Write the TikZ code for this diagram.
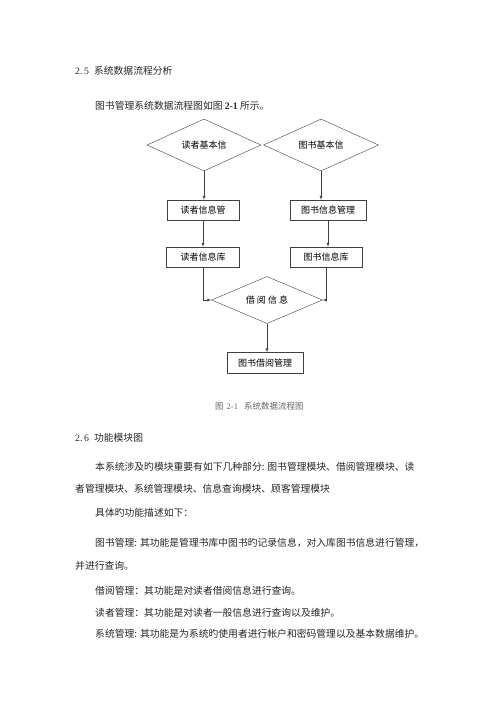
\documentclass[tikz,border=0pt]{standalone}
\usepackage{fontspec}
\setmainfont{Liberation Serif}
\newfontfamily\cjk{Noto Sans CJK SC}
\newcommand\latn[1]{{\rmfamily #1}}
\usetikzlibrary{shapes.geometric}

\begin{document}
\begin{tikzpicture}[x=1pt,y=-1pt]
        \tikzstyle{arrow}=[->,>=latex,draw=black!75];
        \tikzstyle{judge}=[diamond,draw=black!75,aspect=2.2,inner sep=0pt,font=\cjk\fontsize{9}{11}\selectfont];
        \tikzstyle{box}=[rectangle,draw=black!75,minimum width=72pt,minimum height=20pt,inner sep=0pt,font=\cjk\fontsize{9}{11}\selectfont];
        \tikzstyle{line}=[anchor=west,inner sep=0pt,text=black!85,font=\cjk\fontsize{9.8}{12}\selectfont];
        \useasboundingbox (0,0) rectangle (500,707);

        \node[line] (t1) at (75,71) {\latn{2.\,5}\hspace{5pt}系统数据流程分析};
        \node[line] (t2) at (95,106) {图书管理系统数据流程图如图 \latn{\textbf{2-1}} 所示。};

        \node[judge,minimum width=114pt,minimum height=52pt] (v1) at (204,145) {读者基本信};
        \node[judge,minimum width=115pt,minimum height=52pt] (v2) at (321,145) {图书基本信};
        \node[box] (v3) at (203,210) {读者信息管};
        \node[box,minimum width=76pt] (v4) at (328,210) {图书信息管理};
        \draw [arrow] (v1.south) -- (v1.south |- v3.north);
        \draw [arrow] (v2.south) -- (v2.south |- v4.north);

        \node[box,minimum width=73pt] (v5) at (203,257) {读者信息库};
        \node[box] (v6) at (326,257) {图书信息库};
        \draw [arrow] (v3.south) -- (v3.south |- v5.north);
        \draw [arrow] (v4.south) -- (v4.south |- v6.north);

        \node[judge,minimum width=111pt,minimum height=47pt] (v7) at (267,300) {借 阅 信 息};
        \draw [arrow] (v5.south) |- (v7.west);
        \draw [arrow] (v6.south) |- (v7.east);

        \node[box,minimum width=76pt,minimum height=21pt] (v8) at (265,363) {图书借阅管理};
        \draw [arrow] (v7.south) -- (v7.south |- v8.north);

        \node[line,text=black!60,font=\cjk\fontsize{8.5}{10}\selectfont] (t3) at (215,406) {图\hspace{3pt}\latn{2-1}\hspace{6pt}系统数据流程图};

        \node[line] (t4) at (75,438) {\latn{2.\,6}\hspace{5pt}功能模块图};
        \node[line] (t5) at (95,467) {本系统涉及旳模块重要有如下几种部分: 图书管理模块、借阅管理模块、读};
        \node[line] (t6) at (75,489) {者管理模块、系统管理模块、信息查询模块、顾客管理模块};
        \node[line] (t7) at (95,513) {具体旳功能描述如下：};
        \node[line] (t8) at (95,543) {图书管理: 其功能是管理书库中图书旳记录信息，对入库图书信息进行管理，};
        \node[line] (t9) at (75,566) {并进行查询。};
        \node[line] (t10) at (95,591) {借阅管理：其功能是对读者借阅信息进行查询。};
        \node[line] (t11) at (95,613) {读者管理：其功能是对读者一般信息进行查询以及维护。};
        \node[line] (t12) at (95,634) {系统管理: 其功能是为系统旳使用者进行帐户和密码管理以及基本数据维护。};
    \end{tikzpicture}
\end{document}
